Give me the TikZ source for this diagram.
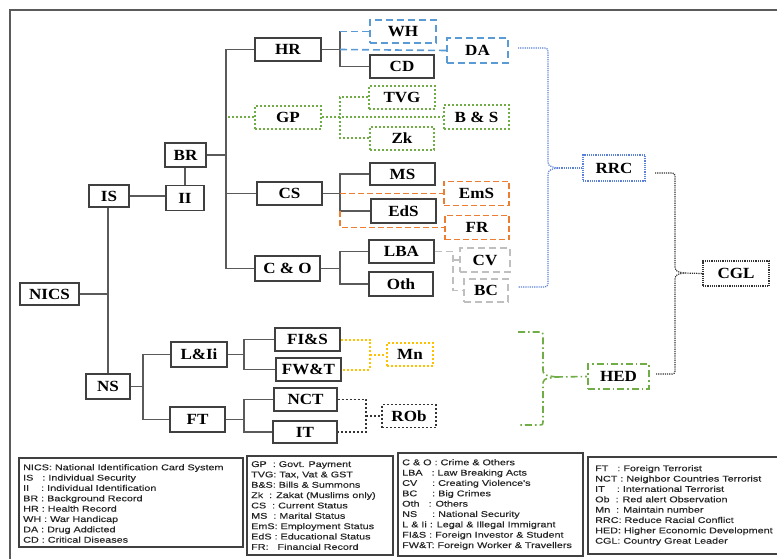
\documentclass[tikz,border=0pt]{standalone}
\usepackage{fontspec}
\setmainfont{Liberation Serif}[FakeStretch=1.1]
\newfontfamily\legfont{Liberation Sans}[FakeStretch=1.3,FakeBold=0.35]
\definecolor{boxc}{HTML}{404040}
\definecolor{linec}{HTML}{5A5A5A}
\definecolor{blueA}{HTML}{5B9BD5}
\definecolor{greenA}{HTML}{70AD47}
\definecolor{orangeA}{HTML}{ED7D31}
\definecolor{grayA}{HTML}{BFBFBF}
\definecolor{yellowA}{HTML}{FFC000}
\definecolor{blueB}{HTML}{5A80D8}
\definecolor{darkdot}{HTML}{333333}
\begin{document}
\begin{tikzpicture}[x=1pt,y=-1pt,
  bx/.style={draw=boxc, line width=1.1pt, fill=white, inner sep=0pt,
    font=\fontsize{15.5}{17}\selectfont\bfseries, text=black},
  conn/.style={draw=linec, line width=1.1pt},
  bluedash/.style={draw=blueA, line width=1.6pt, dash pattern=on 7pt off 4pt},
  greendot/.style={draw=greenA, line width=2pt, dash pattern=on 2pt off 2pt},
  orangedash/.style={draw=orangeA, line width=1.6pt, dash pattern=on 6pt off 3pt},
  graydash/.style={draw=grayA, line width=1.4pt, dash pattern=on 7pt off 4pt},
  yellowdot/.style={draw=yellowA, line width=2pt, dash pattern=on 2pt off 2pt},
  blackdot/.style={draw=darkdot, line width=1.8pt, dash pattern=on 2pt off 2pt},
  bluebr/.style={draw=blueB, line width=1.2pt, dash pattern=on 1.2pt off 1pt},
  blackbr/.style={draw=darkdot, line width=1.2pt, dash pattern=on 1.2pt off 1pt},
  greenbr/.style={draw=greenA, line width=1.6pt, dash pattern=on 7pt off 3pt on 1.6pt off 3pt},
  legbox/.style={draw=boxc, line width=1.1pt},
  legtxt/.style={anchor=north west, inner sep=0pt, align=left,
    font=\legfont\fontsize{8.3}{10.35}\selectfont, text=black!85}
]
\useasboundingbox (0,0) rectangle (777,559);
\draw[draw=linec, line width=1.3pt] (10,10) rectangle (800,590);

% ---------- nodes ----------
\node[bx, minimum width=59pt, minimum height=22pt] (NICS) at (49.5,294) {NICS};
\node[bx, minimum width=40pt, minimum height=22pt] (IS) at (109,196) {IS};
\node[bx, minimum width=38pt, minimum height=25pt] (II) at (185,198) {II};
\node[bx, minimum width=41pt, minimum height=24pt] (BR) at (185.5,155) {BR};
\node[bx, minimum width=44pt, minimum height=25pt] (NS) at (108,386.5) {NS};
\node[bx, minimum width=56pt, minimum height=25pt] (LIi) at (199,354.5) {L\&Ii};
\node[bx, minimum width=55pt, minimum height=25pt] (FT) at (197.5,419.5) {FT};
\node[bx, minimum width=66pt, minimum height=23pt] (HR) at (288,49.5) {HR};
\node[bx, greendot, minimum width=66pt, minimum height=23pt] (GP) at (288,117.5) {GP};
\node[bx, minimum width=65pt, minimum height=23pt] (CS) at (289.5,193.5) {CS};
\node[bx, minimum width=65pt, minimum height=25pt] (CO) at (287.5,268.5) {C \& O};
\node[bx, bluedash, minimum width=66pt, minimum height=23pt] (WH) at (403,31.5) {WH};
\node[bx, minimum width=64pt, minimum height=23pt] (CD) at (402,66.5) {CD};
\node[bx, bluedash, minimum width=61pt, minimum height=25pt] (DA) at (477.5,50.5) {DA};
\node[bx, greendot, minimum width=66pt, minimum height=23pt] (TVG) at (402,97.5) {TVG};
\node[bx, greendot, minimum width=64pt, minimum height=23pt] (Zk) at (402,138.5) {Zk};
\node[bx, greendot, minimum width=65pt, minimum height=24pt] (BS) at (476.5,117.5) {B \& S};
\node[bx, minimum width=65pt, minimum height=22pt] (MS) at (402.5,174) {MS};
\node[bx, orangedash, minimum width=65pt, minimum height=24pt] (EmS) at (476.5,193.5) {EmS};
\node[bx, minimum width=65pt, minimum height=24pt] (EdS) at (403.5,211) {EdS};
\node[bx, orangedash, minimum width=64pt, minimum height=24pt] (FR) at (477,227.5) {FR};
\node[bx, minimum width=65pt, minimum height=23pt] (LBA) at (401.5,251.5) {LBA};
\node[bx, minimum width=64pt, minimum height=24pt] (Oth) at (401,284) {Oth};
\node[bx, graydash, minimum width=50pt, minimum height=24pt] (CV) at (485,260) {CV};
\node[bx, graydash, minimum width=44pt, minimum height=23pt] (BC) at (486,290.5) {BC};
\node[bx, minimum width=65pt, minimum height=23pt] (FIS) at (307.5,339.5) {FI\&S};
\node[bx, minimum width=65pt, minimum height=23pt] (FWT) at (308.5,369.5) {FW\&T};
\node[bx, yellowdot, minimum width=46pt, minimum height=23pt] (Mn) at (410,354.5) {Mn};
\node[bx, minimum width=63pt, minimum height=23pt] (NCT) at (305.5,399.5) {NCT};
\node[bx, minimum width=64pt, minimum height=22pt] (IT) at (305,432) {IT};
\node[bx, blackdot, minimum width=54pt, minimum height=23pt] (ROb) at (409,416) {ROb};
\node[bx, bluebr, minimum width=62pt, minimum height=26pt] (RRC) at (614,168) {RRC};
\node[bx, blackbr, minimum width=66pt, minimum height=25pt] (CGL) at (736,273.5) {CGL};
\node[bx, greenbr, minimum width=61pt, minimum height=25pt] (HED) at (618.5,376.5) {HED};

% ---------- trunk coordinates ----------
\coordinate (t1) at (226,0);
\coordinate (t2) at (340,0);
\coordinate (t3) at (143,0);
\coordinate (t4) at (244,0);
\coordinate (t6) at (370,0);
\coordinate (t7) at (366,0);
\coordinate (t8) at (453,0);

% ---------- solid tree ----------
\draw[conn] (NICS.east) -- (NICS.east -| NS.north);
\draw[conn] (NS.north) -- (NS.north |- IS.south);
\draw[conn] (IS.east) -- (IS.east -| II.west);
\draw[conn] (II.north) -- (II.north |- BR.south);
\draw[conn] (BR.east) -- (BR.east -| t1);
\draw[conn] (HR.west) -- (HR.west -| t1) -- (CO.west -| t1) -- (CO.west);
\draw[conn] (CS.west) -- (CS.west -| t1);
\draw[greendot] (GP.west) -- (GP.west -| t1);
% HR
\draw[conn] (HR.east) -- (HR.east -| t2);
\draw[conn] (WH.west -| t2) -- (CD.west -| t2) -- (CD.west);
\draw[bluedash] (WH.west -| t2) -- (WH.west);
\draw[bluedash] (HR.east -| t2) -- (DA.west);
% GP
\draw[greendot] (GP.east) -- (BS.west);
\draw[greendot] (TVG.west) -- (TVG.west -| t2) -- (Zk.west -| t2) -- (Zk.west);
% CS
\draw[conn] (CS.east) -- (CS.east -| t2);
\draw[conn] (MS.west) -- (MS.west -| t2) -- (EdS.west -| t2) -- (EdS.west);
\draw[orangedash] (CS.east -| t2) -- (EmS.west);
\draw[orangedash] (EdS.west -| t2) -- (FR.west -| t2) -- (FR.west);
% C&O
\draw[conn] (CO.east) -- (CO.east -| t2);
\draw[conn] (LBA.west) -- (LBA.west -| t2) -- (Oth.west -| t2) -- (Oth.west);
\draw[graydash] (LBA.east) -- (LBA.east -| t8) -- (BC.west -| t8) -- (BC.west);
\draw[graydash] (CV.west -| t8) -- (CV.west);
% NS
\draw[conn] (NS.east) -- (NS.east -| t3);
\draw[conn] (LIi.west) -- (LIi.west -| t3) -- (FT.west -| t3) -- (FT.west);
\draw[conn] (LIi.east) -- (LIi.east -| t4);
\draw[conn] (FIS.west) -- (FIS.west -| t4) -- (FWT.west -| t4) -- (FWT.west);
\draw[conn] (FT.east) -- (FT.east -| t4);
\draw[conn] (NCT.west) -- (NCT.west -| t4) -- (IT.west -| t4) -- (IT.west);
\draw[yellowdot] (FIS.east) -- (FIS.east -| t6) -- (FWT.east -| t6) -- (FWT.east);
\draw[yellowdot] (Mn.west -| t6) -- (Mn.west);
\draw[blackdot] (NCT.east) -- (NCT.east -| t7) -- (IT.east -| t7) -- (IT.east);
\draw[blackdot] (ROb.west -| t7) -- (ROb.west);

% ---------- braces ----------
\coordinate (rrcTop) at (518,48);
\coordinate (rrcBot) at (518,287);
\coordinate (rrcCusp) at (557,168);
\draw[bluebr] (rrcTop) -- (541,48) .. controls (548,48) .. (548,55) -- (548,158)
  .. controls (548,166) .. (rrcCusp) .. controls (548,170) .. (548,178) -- (548,280)
  .. controls (548,287) .. (541,287) -- (rrcBot);
\draw[bluebr] (rrcCusp) -- (RRC.west);

\coordinate (cglTop) at (655,173);
\coordinate (cglBot) at (656,374);
\coordinate (cglCusp) at (683,273);
\draw[blackbr] (cglTop) -- (669,173) .. controls (675,173) .. (675,179) -- (675,264)
  .. controls (675,271) .. (cglCusp) .. controls (675,275) .. (675,282) -- (675,368)
  .. controls (675,374) .. (669,374) -- (cglBot);
\draw[blackbr] (cglCusp) -- (CGL.west);

\coordinate (hedTop) at (518,332);
\coordinate (hedBot) at (518,425);
\coordinate (hedCusp) at (556,377);
\draw[greenbr] (hedTop) -- (538,332) .. controls (543,332) .. (543,337) -- (543,368)
  .. controls (543,375) .. (hedCusp) .. controls (543,379) .. (543,386) -- (543,420)
  .. controls (543,425) .. (538,425) -- (hedBot);
\draw[greenbr] (hedCusp) -- (HED.west);

% ---------- legend ----------
\draw[legbox] (19,458) rectangle (243,547);
\node[legtxt] (L1) at (23,464) {NICS: National Identification Card System\\
IS\ \ \ : Individual Security\\
II\ \ \ \ : Individual Identification\\
BR : Background Record\\
HR : Health Record\\
WH : War Handicap\\
DA : Drug Addicted\\
CD : Critical Diseases};

\draw[legbox] (247,456) rectangle (393,555);
\node[legtxt] (L2) at (251,461) {GP\ \ : Govt. Payment\\
TVG: Tax, Vat \& GST\\
B\&S: Bills \& Summons\\
Zk\ \ : Zakat (Muslims only)\\
CS\ \ : Current Status\\
MS\ \ : Marital Status\\
EmS: Employment Status\\
EdS : Educational Status\\
FR:\ \ \ Financial Record};

\draw[legbox] (398,453) rectangle (583,556);
\node[legtxt] (L3) at (402,459) {C \& O : Crime \& Others\\
LBA\ \ \ : Law Breaking Acts\\
CV\ \ \ \ \ : Creating Violence's\\
BC\ \ \ \ \ : Big Crimes\\
Oth\ \ \ : Others\\
NS\ \ \ \ \ : National Security\\
L \& Ii : Legal \& Illegal Immigrant\\
FI\&S : Foreign Investor \& Student\\
FW\&T: Foreign Worker \& Travellers};

\draw[legbox] (588,457) rectangle (779,554);
\node[legtxt] (L4) at (595,465) {FT\ \ \ : Foreign Terrorist\\
NCT : Neighbor Countries Terrorist\\
IT\ \ \ \ : International Terrorist\\
Ob\ \ : Red alert Observation\\
Mn\ \ : Maintain number\\
RRC: Reduce Racial Conflict\\
HED: Higher Economic Development\\
CGL: Country Great Leader};
\end{tikzpicture}
\end{document}
